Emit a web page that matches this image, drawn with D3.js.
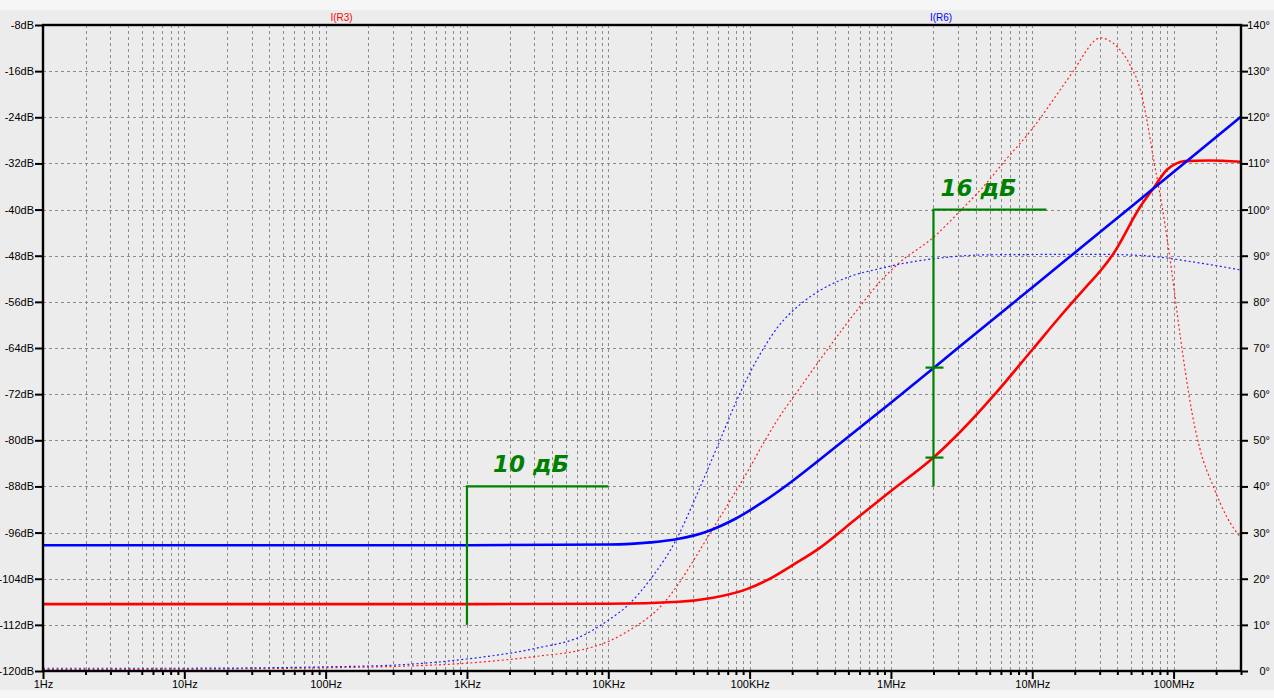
<!DOCTYPE html>
<html><head><meta charset="utf-8">
<script src="https://cdn.jsdelivr.net/npm/d3@7"></script>
<style>body{margin:0;background:#f6f6f6;} svg{display:block}</style>
</head><body><svg id="c" width="1274" height="698"></svg>
<script>
// ---- data ----
const freqMagR6 = [1, 1e3, 1e4, 2e4, 31.6e3, 50.1e3, 79.4e3, 126e3, 200e3, 316e3, 562e3, 1e6, 3.16e6, 1e7, 3.16e7, 1e8, 3e8];
const magR6     = [-98.2, -98.2, -98.07, -97.7, -97.07, -95.8, -93.6, -90.6, -87.1, -83.3, -78.4, -73.5, -63.5, -53.5, -43.5, -33.5, -23.9];

const freqMagR3 = [1, 1e3, 1e4, 31.6e3, 55e3, 95.5e3, 132e3, 203e3, 316e3, 562e3, 1e6, 2e6, 3.16e6, 5.62e6, 1e7, 15.8e6, 25.1e6, 30.2e6, 37.6e6, 58.1e6, 72.1e6, 89.7e6, 105e6, 120e6, 178e6, 300e6];
const magR3     = [-108.4, -108.4, -108.35, -108.0, -107.3, -105.8, -104.3, -101.6, -98.6, -93.7, -88.8, -83.0, -78.3, -71.6, -64.3, -58.5, -52.9, -50.7, -47.6, -39.5, -36.3, -33.1, -32.0, -31.6, -31.5, -31.7];

const freqPhR6 = [1, 10, 100, 316, 1e3, 3162, 6310, 1e4, 13.8e3, 2e4, 30.9e3, 40.7e3, 61.7e3, 79.4e3, 1e5, 126e3, 158e3, 229e3, 316e3, 513e3, 832e3, 1.26e6, 1.95e6, 5e6, 3e7, 6.17e7, 1.55e8, 3e8];
const phR6     = [0.6, 0.6, 0.9, 1.3, 2.6, 5.0, 7.4, 11, 14.3, 20, 29, 37, 50, 58, 64.5, 70, 74.5, 79.5, 82.5, 85.5, 87.2, 88.4, 89.3, 90.2, 90.3, 90.0, 88.4, 86.9];

const freqPhR3 = [1, 10, 100, 316, 1e3, 3162, 6310, 1e4, 15.8e3, 2e4, 25.1e3, 31.6e3, 39.8e3, 50.1e3, 63.1e3, 79.4e3, 1e5, 126e3, 158e3, 229e3, 372e3, 603e3, 832e3, 1.15e6, 2e6, 3.16e6, 4.37e6, 6.46e6, 1e7, 15.8e6, 20e6, 24e6, 26.9e6, 30.2e6, 34.7e6, 39.8e6, 49.3e6, 58.1e6, 64.7e6, 72.1e6, 82.6e6, 89.7e6, 97.2e6, 104e6, 121e6, 135e6, 154e6, 191e6, 238e6, 300e6];
const phR3     = [0.3, 0.4, 0.7, 1.0, 1.7, 3.2, 4.5, 6.4, 9.8, 12.0, 15.0, 19.0, 23.8, 28.8, 33.8, 38.8, 44.0, 49.5, 54.5, 61.5, 70.5, 79, 84.3, 88.5, 94, 100, 104.5, 110.7, 117.5, 126, 130.5, 134.3, 136.3, 137.2, 136.7, 135.3, 131.3, 126, 119.4, 111, 101, 94, 86.5, 79.5, 65, 56, 48, 40, 33.4, 28.8];

const dbTicks   = [-120, -112, -104, -96, -88, -80, -72, -64, -56, -48, -40, -32, -24, -16, -8];
const degTicks  = [0, 10, 20, 30, 40, 50, 60, 70, 80, 90, 100, 110, 120, 130, 140];
const decades   = [1, 10, 100, 1e3, 1e4, 1e5, 1e6, 1e7, 1e8];
const decadeLabels = ["1Hz", "10Hz", "100Hz", "1KHz", "10KHz", "100KHz", "1MHz", "10MHz", "100MHz"];
const traceNames = ["I(R3)", "I(R6)"];

// annotations (frequency / dB)
const annoLeft  = {f0: 1e3, f1: 1e4, top: -88, bottom: -112, label: "10 дБ"};
const annoRight = {f0: 2e6, f1: 12.6e6, top: -40, bottom: -88, label: "16 дБ", marks: [-67.4, -83.0]};

// ---- drawing ----
const W = 1274, H = 698;
const L = 43, R = 1241, T = 25, B = 671;
const svg = d3.select("#c");
const xs = d3.scaleLog().domain([1, 3e8]).range([L, R]);
const yL = d3.scaleLinear().domain([-120, -8]).range([B, T]);
const yR = d3.scaleLinear().domain([0, 140]).range([B, T]);

svg.append("rect").attr("x", 0).attr("y", 10).attr("width", W).attr("height", 680).attr("fill", "#ececec");

const allX = [];
decades.forEach(d => { for (let m = 1; m <= 9; m++) { const v = d * m; if (v <= 3e8 * 1.0001) allX.push(v); } });

const grid = svg.append("g").attr("stroke", "#8c8c8c").attr("stroke-width", 1).attr("stroke-dasharray", "3,3");
grid.selectAll("line.v").data(allX.filter(v => v > 1 && v < 2.99e8)).join("line")
  .attr("x1", d => Math.round(xs(d)) + 0.5).attr("x2", d => Math.round(xs(d)) + 0.5)
  .attr("y1", T).attr("y2", B);
grid.selectAll("line.h").data(dbTicks.filter(v => v > -120 && v < -8)).join("line")
  .attr("x1", L).attr("x2", R)
  .attr("y1", d => Math.round(yL(d)) + 0.5).attr("y2", d => Math.round(yL(d)) + 0.5);

const pts = (fs, vs) => fs.map((f, i) => [f, vs[i]]);
const lineDB = d3.line().x(d => xs(d[0])).y(d => yL(d[1])).curve(d3.curveMonotoneX);
const lineDeg = d3.line().x(d => xs(d[0])).y(d => yR(d[1])).curve(d3.curveMonotoneX);

svg.append("path").attr("d", lineDeg(pts(freqPhR3, phR3))).attr("fill", "none")
  .attr("stroke", "#ff2020").attr("stroke-width", 1.2).attr("stroke-dasharray", "2,2.5");
svg.append("path").attr("d", lineDeg(pts(freqPhR6, phR6))).attr("fill", "none")
  .attr("stroke", "#2020ff").attr("stroke-width", 1.2).attr("stroke-dasharray", "2,2.5");
svg.append("path").attr("d", lineDB(pts(freqMagR3, magR3))).attr("fill", "none")
  .attr("stroke", "#ff0000").attr("stroke-width", 2.6);
svg.append("path").attr("d", lineDB(pts(freqMagR6, magR6))).attr("fill", "none")
  .attr("stroke", "#0000ff").attr("stroke-width", 2.6);

// frame
svg.append("rect").attr("x", L).attr("y", T).attr("width", R - L).attr("height", B - T)
  .attr("fill", "none").attr("stroke", "#000").attr("stroke-width", 2.4);

const font = "'Liberation Sans', Arial, sans-serif";
function styleAxis(g) {
  g.select(".domain").remove();
  g.selectAll(".tick line").attr("stroke", "#000").attr("stroke-width", 2);
  g.selectAll(".tick text").attr("fill", "#000").style("font-family", font).style("font-size", "11px");
}
const axL = svg.append("g").attr("transform", `translate(${L},0)`)
  .call(d3.axisLeft(yL).tickValues(dbTicks).tickFormat(d => d + "dB").tickSize(8).tickPadding(1));
styleAxis(axL);
const axR = svg.append("g").attr("transform", `translate(${R},0)`)
  .call(d3.axisRight(yR).tickValues(degTicks).tickFormat(d => d + "°").tickSize(7).tickPadding(1));
styleAxis(axR);
axR.selectAll(".tick text").attr("x", 1270 - R).attr("text-anchor", "end");
const axB = svg.append("g").attr("transform", `translate(0,${B})`)
  .call(d3.axisBottom(xs).tickValues(allX).tickFormat(d => {
    const i = decades.findIndex(v => Math.abs(v - d) / v < 1e-6); return i >= 0 ? decadeLabels[i] : ""; })
    .tickSize(4).tickPadding(5));
styleAxis(axB);
axB.selectAll(".tick line").attr("y2", d => decades.some(v => Math.abs(v - d) / v < 1e-6) ? 8 : 4);

// trace names
svg.append("text").attr("x", 341.5).attr("y", 21).attr("text-anchor", "middle").attr("fill", "#ff0000")
  .style("font-family", font).style("font-size", "10px").text(traceNames[0]);
svg.append("text").attr("x", 941).attr("y", 21).attr("text-anchor", "middle").attr("fill", "#0000ff")
  .style("font-family", font).style("font-size", "10px").text(traceNames[1]);

// annotations
const green = "#008000";
const ag = svg.append("g").attr("stroke", green).attr("stroke-width", 2.2).attr("fill", "none");
[annoLeft, annoRight].forEach(a => {
  ag.append("line").attr("x1", xs(a.f0)).attr("x2", xs(a.f0)).attr("y1", yL(a.top)).attr("y2", yL(a.bottom));
  ag.append("line").attr("x1", xs(a.f0) - 1).attr("x2", xs(a.f1)).attr("y1", yL(a.top)).attr("y2", yL(a.top));
});
annoRight.marks.forEach(m => {
  ag.append("line").attr("x1", xs(annoRight.f0) - 8).attr("x2", xs(annoRight.f0) + 10)
    .attr("y1", yL(m)).attr("y2", yL(m));
});
const tf = "'DejaVu Sans', Verdana, sans-serif";
svg.append("text").attr("x", xs(annoLeft.f0) + 26).attr("y", yL(annoLeft.top) - 14)
  .attr("fill", green).style("font-family", tf).style("font-size", "23px").style("font-weight", "bold")
  .style("font-style", "italic").text(annoLeft.label);
svg.append("text").attr("x", xs(annoRight.f0) + 7).attr("y", yL(annoRight.top) - 14)
  .attr("fill", green).style("font-family", tf).style("font-size", "23px").style("font-weight", "bold")
  .style("font-style", "italic").text(annoRight.label);
</script>
</body></html>
